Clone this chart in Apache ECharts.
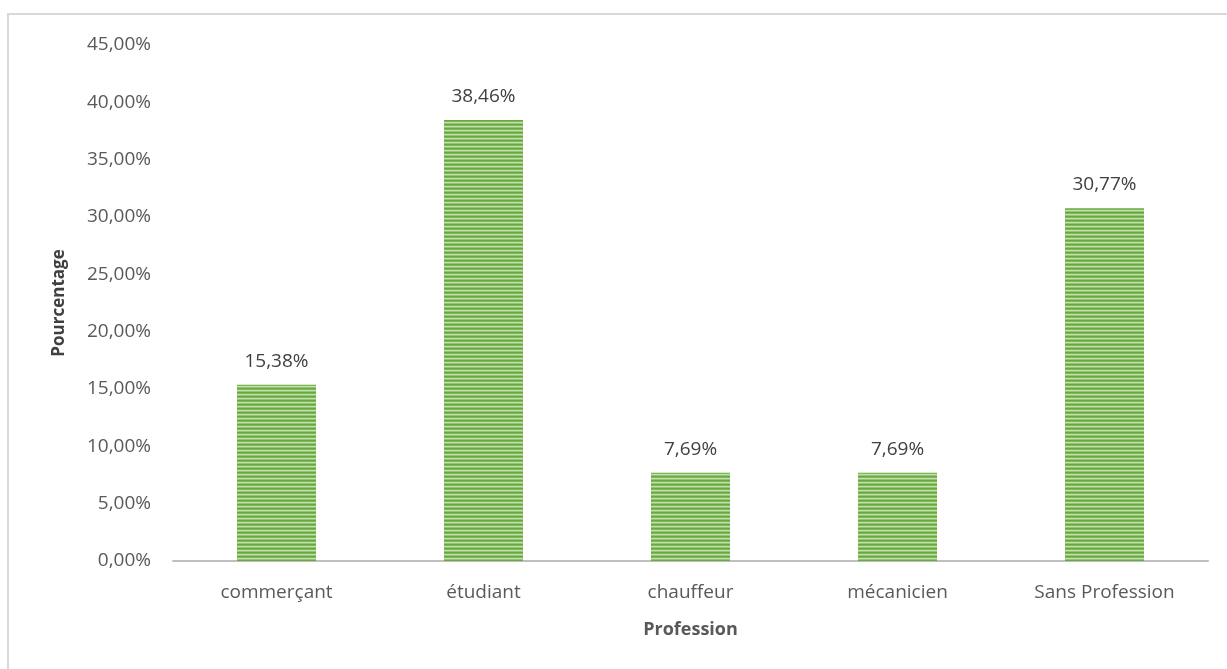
<!DOCTYPE html>
<html><head><meta charset="utf-8">
<script src="https://cdn.jsdelivr.net/npm/echarts@6/dist/echarts.min.js"></script>
<style>html,body{margin:0;padding:0;background:#fff;}#c{width:1227px;height:669px;}</style>
</head><body><div id="c"></div>
<script>
var categories = ['commerçant', 'étudiant', 'chauffeur', 'mécanicien', 'Sans Profession'];
var values = [15.38, 38.46, 7.69, 7.69, 30.77];
var yTicks = [0, 5, 10, 15, 20, 25, 30, 35, 40, 45];

var pc = document.createElement('canvas');
pc.width = 4; pc.height = 4;
var ctx = pc.getContext('2d');
var rows = ['#67a83f', '#7db757', '#c3e1b0', '#92c472'];
for (var i = 0; i < 4; i++) { ctx.fillStyle = rows[i]; ctx.fillRect(0, i, 4, 1); }

function fmt(v) { return v.toFixed(2).replace('.', ',') + '%'; }

var chart = echarts.init(document.getElementById('c'));
var font = '"Open Sans", sans-serif';
chart.setOption({
  animation: false,
  graphic: [{ type: 'rect', shape: { x: 8, y: 14, width: 1240, height: 700 }, style: { fill: 'none', stroke: '#d9d9d9', lineWidth: 2 } }],
  grid: { left: 173, right: 19, top: 45, bottom: 108, containLabel: false },
  xAxis: {
    type: 'category', data: categories,
    axisLine: { lineStyle: { color: '#bfbfbf', width: 2 } },
    axisTick: { show: false },
    axisLabel: { color: '#595959', fontSize: 19, fontFamily: font, margin: 22 },
    name: 'Profession', nameLocation: 'middle', nameGap: 60,
    nameTextStyle: { color: '#595959', fontSize: 18, fontWeight: 'bold', fontFamily: font }
  },
  yAxis: {
    type: 'value', min: 0, max: 45, interval: 5,
    axisLine: { show: false }, axisTick: { show: false },
    splitLine: { show: false },
    axisLabel: { color: '#595959', fontSize: 19, fontFamily: font, margin: 22, formatter: function (v) { return fmt(v); } },
    name: 'Pourcentage', nameLocation: 'middle', nameGap: 105,
    nameTextStyle: { color: '#404040', fontSize: 17, fontWeight: 'bold', fontFamily: font }
  },
  series: [{
    type: 'bar', data: values, barWidth: 79,
    itemStyle: { color: { image: pc, repeat: 'repeat' } },
    label: { show: true, position: 'top', distance: 14, color: '#404040', fontSize: 19, fontFamily: font, formatter: function (p) { return fmt(p.value); } }
  }]
});
</script></body></html>
